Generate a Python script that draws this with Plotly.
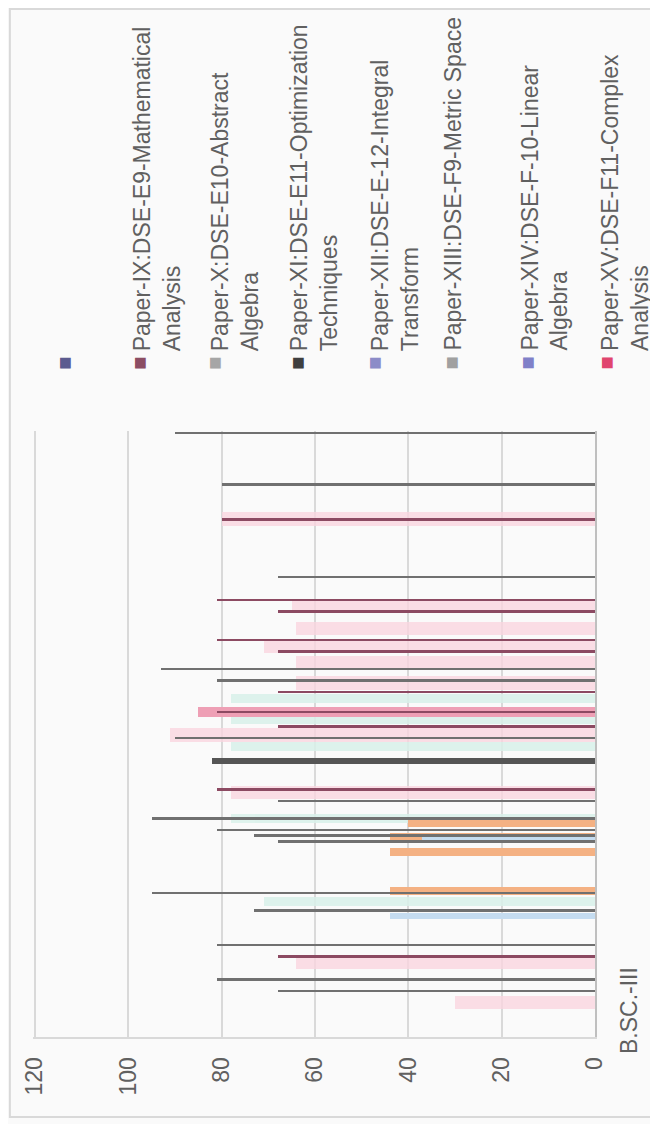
import plotly.graph_objects as go

# ---------------- data ----------------
category_label = ["B.SC.-III"]
value_ticks = [0, 20, 40, 60, 80, 100, 120]

# thin dark bars (position inside the cluster -> value)
gray_slot = [0, 9, 25, 41, 43, 53, 64, 67, 69, 70, 71, 80, 83, 89, 95, 97]
gray_val = [90, 80, 68, 93, 81, 90, 68, 95, 81, 73, 68, 95, 73, 81, 81, 68]
dark_slot = [57]
dark_val = [82]
maroon_slot = [15, 29, 31, 36, 38, 45, 48.5, 51, 62, 91]
maroon_val = [80, 81, 68, 81, 68, 68, 81, 68, 81, 68]

# wider, pale coloured bars behind them
pink_slot = [15, 30, 34, 37, 40, 43.5, 52.5, 62.5, 92, 99]
pink_val = [80, 65, 64, 71, 64, 64, 91, 78, 64, 30]
rose_slot = [48.5]
rose_val = [85]
orange_slot = [67.8, 70.2, 72.8, 79.6]
orange_val = [40, 44, 44, 44]
blue_slot = [70.8, 84]
blue_val = [37, 44]
teal_slot = [46.2, 49.8, 54.5, 67, 81.5]
teal_val = [78, 78, 78, 78, 71]

legend_names = [
    "",
    "Paper-IX:DSE-E9-Mathematical<br>Analysis",
    "Paper-X:DSE-E10-Abstract<br>Algebra",
    "Paper-XI:DSE-E11-Optimization<br>Techniques",
    "Paper-XII:DSE-E-12-Integral<br>Transform",
    "Paper-XIII:DSE-F9-Metric Space",
    "Paper-XIV:DSE-F-10-Linear<br>Algebra",
    "Paper-XV:DSE-F11-Complex<br>Analysis",
]
legend_colors = ["#5b5b8f", "#8b4d63", "#a6a6a6", "#3f3f3f",
                 "#8c8cc8", "#a0a0a0", "#8080c8", "#e0456e"]

# ---------------- layout geometry ----------------
OFF = 8                      # page body margin
XMAX = 120.4                 # a little past 120 so its gridline shows
W, H = 658 - OFF, 1124 - OFF
UNIT = (595.5 - 35) / 120
ML = (595.5 - XMAX * UNIT) - OFF
MT = 431 - OFF
MB = H - (1037 - OFF)
MR = W - (595.5 - OFF)
PW, PH = W - ML - MR, H - MT - MB


def px(x):
    return (x - OFF - ML) / PW


def py(y):
    return (H - MB - (y - OFF)) / PH


fig = go.Figure()


def add_bars(slots, vals, color, width, opacity=1.0):
    fig.add_trace(go.Bar(
        orientation="h", x=vals, y=slots, width=width,
        marker=dict(color=color, line=dict(width=0)),
        opacity=opacity, showlegend=False, hoverinfo="skip"))


add_bars(teal_slot, teal_val, "#d9f1ea", 1.6, 0.85)
add_bars(pink_slot, pink_val, "#fad6e0", 2.4, 0.8)
add_bars(rose_slot, rose_val, "#ee9fb5", 1.6)
add_bars(orange_slot, orange_val, "#f4b183", 1.3)
add_bars(blue_slot, blue_val, "#c5dcf0", 1.1)
add_bars(gray_slot, gray_val, "#707070", 0.45)
add_bars(dark_slot, dark_val, "#555555", 1.0)
add_bars(maroon_slot, maroon_val, "#8c4a62", 0.45)

FONT = "Liberation Sans, Arial, sans-serif"
TXT = "#606060"

fig.update_layout(
    width=W, height=H, autosize=False,
    margin=dict(l=ML, r=MR, t=MT, b=MB, pad=0),
    paper_bgcolor="#fafafa", plot_bgcolor="#fafafa",
    barmode="overlay", bargap=0,
    font=dict(family=FONT, size=23, color=TXT),
    showlegend=False,
)
fig.update_xaxes(
    range=[XMAX, 0], tickvals=value_ticks, tickangle=-90,
    showgrid=True, gridcolor="#d9d9d9", gridwidth=2,
    showline=True, linecolor="#d9d9d9", linewidth=2,
    zeroline=False, ticks="", ticklabelstandoff=9, automargin=False,
    tickfont=dict(size=23, color=TXT, family=FONT),
)
fig.update_yaxes(
    range=[105, -0.35], side="right",
    tickvals=[101], ticktext=category_label, tickangle=-90,
    showgrid=False, zeroline=False,
    showline=True, linecolor="#bfbfbf", linewidth=2,
    ticks="", ticklabelstandoff=12, automargin=False,
    tickfont=dict(size=23, color=TXT, family=FONT),
)

# legend drawn as rotated text (as in the picture)
sq_x = [64, 139, 214, 297, 374, 451, 527, 607]
line1_x = [64, 143, 221, 300, 381, 454, 531, 611]
for name, col, sx, lx in zip(legend_names, legend_colors, sq_x, line1_x):
    fig.add_annotation(
        xref="paper", yref="paper", x=px(sx), y=py(363),
        text="■", showarrow=False, textangle=-90,
        font=dict(size=22, color=col), xanchor="center", yanchor="middle")
    if name:
        fig.add_annotation(
            xref="paper", yref="paper", x=px(lx - 15), y=py(352),
            text=name, showarrow=False, textangle=-90, align="left",
            font=dict(size=23, color=TXT, family=FONT),
            xanchor="left", yanchor="bottom", borderpad=0)

# chart-area border
fig.add_shape(type="rect", xref="paper", yref="paper",
              x0=px(10), x1=px(652), y0=py(1117), y1=py(9),
              line=dict(color="#d9d9d9", width=2), fillcolor="rgba(0,0,0,0)",
              layer="below")

fig.write_html("out.html")
